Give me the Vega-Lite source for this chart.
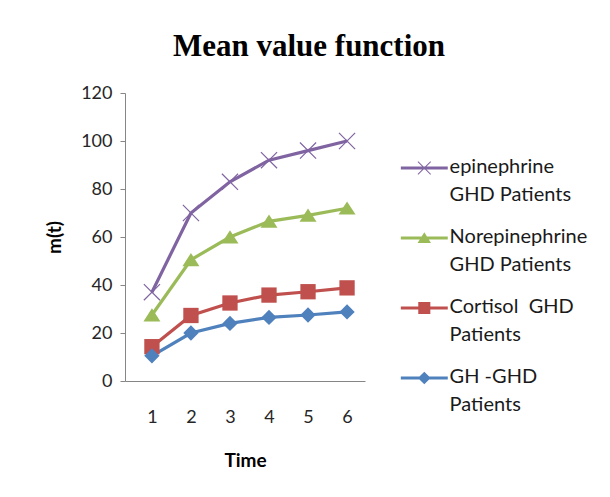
{
  "$schema": "https://vega.github.io/schema/vega-lite/v6.json",
  "width": 240,
  "height": 288,
  "autosize": {"type": "none"},
  "padding": {"left": 125, "top": 93, "right": 245, "bottom": 116},
  "background": "white",
  "title": {
    "text": "Mean value function",
    "font": "Liberation Serif",
    "fontSize": 31,
    "fontWeight": "bold",
    "color": "#000000",
    "anchor": "middle",
    "frame": "group",
    "dx": 64,
    "offset": 21
  },
  "config": {
    "view": {"stroke": null},
    "font": "Lato",
    "axis": {
      "grid": false,
      "domainColor": "#868686",
      "tickColor": "#868686",
      "labelFont": "Lato",
      "labelFontSize": 18,
      "labelColor": "#262626",
      "titleFont": "Lato",
      "titleFontSize": 19,
      "titleFontWeight": "bold",
      "titleColor": "#000000"
    }
  },
  "data": {
    "values": [
      {"series": "epinephrine GHD Patients", "time": 1, "value": 37},
      {"series": "epinephrine GHD Patients", "time": 2, "value": 70},
      {"series": "epinephrine GHD Patients", "time": 3, "value": 83},
      {"series": "epinephrine GHD Patients", "time": 4, "value": 92},
      {"series": "epinephrine GHD Patients", "time": 5, "value": 96},
      {"series": "epinephrine GHD Patients", "time": 6, "value": 100},
      {"series": "Norepinephrine GHD Patients", "time": 1, "value": 27.5},
      {"series": "Norepinephrine GHD Patients", "time": 2, "value": 50.5},
      {"series": "Norepinephrine GHD Patients", "time": 3, "value": 60},
      {"series": "Norepinephrine GHD Patients", "time": 4, "value": 66.5},
      {"series": "Norepinephrine GHD Patients", "time": 5, "value": 69},
      {"series": "Norepinephrine GHD Patients", "time": 6, "value": 72},
      {"series": "Cortisol  GHD Patients", "time": 1, "value": 14.3},
      {"series": "Cortisol  GHD Patients", "time": 2, "value": 27.3},
      {"series": "Cortisol  GHD Patients", "time": 3, "value": 32.5},
      {"series": "Cortisol  GHD Patients", "time": 4, "value": 35.8},
      {"series": "Cortisol  GHD Patients", "time": 5, "value": 37.2},
      {"series": "Cortisol  GHD Patients", "time": 6, "value": 38.8},
      {"series": "GH -GHD Patients", "time": 1, "value": 10.5},
      {"series": "GH -GHD Patients", "time": 2, "value": 20},
      {"series": "GH -GHD Patients", "time": 3, "value": 24},
      {"series": "GH -GHD Patients", "time": 4, "value": 26.5},
      {"series": "GH -GHD Patients", "time": 5, "value": 27.5},
      {"series": "GH -GHD Patients", "time": 6, "value": 28.8}
    ]
  },
  "encoding": {
    "x": {
      "field": "time",
      "type": "quantitative",
      "scale": {"domain": [0.31, 6.46], "nice": false, "zero": false},
      "axis": {"title": "Time", "values": [1, 2, 3, 4, 5, 6], "ticks": false, "labelPadding": 27, "titlePadding": 25, "labelFlush": false}
    },
    "y": {
      "field": "value",
      "type": "quantitative",
      "scale": {"domain": [0, 120], "nice": false},
      "axis": {"title": "m(t)", "values": [0, 20, 40, 60, 80, 100, 120], "tickSize": 5, "labelPadding": 8, "titlePadding": 16}
    }
  },
  "layer": [
    {
      "mark": {"type": "line", "strokeWidth": 3.2},
      "encoding": {
        "color": {
          "field": "series",
          "type": "nominal",
          "scale": {
            "domain": ["epinephrine GHD Patients", "Norepinephrine GHD Patients", "Cortisol  GHD Patients", "GH -GHD Patients"],
            "range": ["#8064A2", "#9BBB59", "#C0504D", "#4F81BD"]
          },
          "legend": {
            "orient": "none",
            "legendX": 289.3,
            "legendY": 65,
            "title": null,
            "symbolSize": 180,
            "labelOffset": 15.3,
            "labelFont": "Lato",
            "labelFontSize": 20,
            "labelColor": "#1a1a1a",
            "labelBaseline": "top",
            "labelLimit": 300,
            "rowPadding": 22,
            "labelExpr": "datum.label == 'epinephrine GHD Patients' ? ['epinephrine', 'GHD Patients'] : datum.label == 'Norepinephrine GHD Patients' ? ['Norepinephrine', 'GHD Patients'] : datum.label == 'Cortisol  GHD Patients' ? ['Cortisol\u00a0 GHD', 'Patients'] : ['GH -GHD', 'Patients']",
            "encode": {
              "symbols": {
                "update": {
                  "shape": {"signal": "datum.value == 'epinephrine GHD Patients' ? 'M-3.5,-0.22L3.5,-0.22L3.5,0.22L-3.5,0.22ZM-1,-0.9L-0.9,-1L1,0.9L0.9,1ZM-1,0.9L0.9,-1L1,-0.9L-0.9,1Z' : datum.value == 'Norepinephrine GHD Patients' ? 'M-3.5,-0.22L3.5,-0.22L3.5,0.22L-3.5,0.22ZM0,-0.85L1,0.75L-1,0.75Z' : datum.value == 'Cortisol  GHD Patients' ? 'M-3.5,-0.22L3.5,-0.22L3.5,0.22L-3.5,0.22ZM-0.9,-0.9L0.9,-0.9L0.9,0.9L-0.9,0.9Z' : 'M-3.5,-0.22L3.5,-0.22L3.5,0.22L-3.5,0.22ZM0,-0.95L0.95,0L0,0.95L-0.95,0Z'"},
                  "fill": {"signal": "datum.value == 'epinephrine GHD Patients' ? '#8064A2' : datum.value == 'Norepinephrine GHD Patients' ? '#9BBB59' : datum.value == 'Cortisol  GHD Patients' ? '#C0504D' : '#4F81BD'"},
                  "fillOpacity": {"value": 1},
                  "opacity": {"value": 1},
                  "stroke": {"value": "transparent"},
                  "strokeWidth": {"value": 0}
                }
              },
              "labels": {
                "update": {
                  "lineHeight": {"value": 28},
                  "dy": {"value": -11}
                }
              }
            }
          }
        }
      }
    },
    {
      "transform": [{"filter": {"field": "series", "equal": "epinephrine GHD Patients"}}],
      "mark": {"type": "point", "filled": true, "opacity": 1, "size": 289, "color": "#8064A2", "shape": "M-1,-0.9L-0.9,-1L1,0.9L0.9,1ZM-1,0.9L0.9,-1L1,-0.9L-0.9,1Z"}
    },
    {
      "transform": [{"filter": {"field": "series", "equal": "Norepinephrine GHD Patients"}}],
      "mark": {"type": "point", "filled": true, "opacity": 1, "size": 289, "color": "#9BBB59", "shape": "M0,-0.8L1,0.75L-1,0.75Z"}
    },
    {
      "transform": [{"filter": {"field": "series", "equal": "Cortisol  GHD Patients"}}],
      "mark": {"type": "point", "filled": true, "opacity": 1, "size": 289, "color": "#C0504D", "shape": "M-0.9,-0.9L0.9,-0.9L0.9,0.9L-0.9,0.9Z"}
    },
    {
      "transform": [{"filter": {"field": "series", "equal": "GH -GHD Patients"}}],
      "mark": {"type": "point", "filled": true, "opacity": 1, "size": 289, "color": "#4F81BD", "shape": "M0,-0.9L0.9,0L0,0.9L-0.9,0Z"}
    }
  ]
}
